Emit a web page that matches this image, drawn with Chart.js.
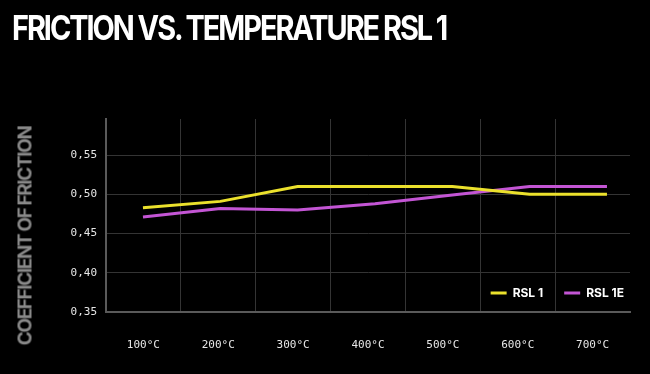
<!DOCTYPE html>
<html>
<head>
<meta charset="utf-8">
<script src="https://cdn.jsdelivr.net/npm/chart.js@4.4.1/dist/chart.umd.min.js"></script>
<style>
  html, body { margin: 0; padding: 0; background: #000; }
  #wrap { position: relative; width: 650px; height: 374px; overflow: hidden; }
  #chart { position: absolute; left: 0; top: 0; }
  h1 {
    position: absolute; left: 12px; top: 8px; margin: 0;
    font-family: Inter, sans-serif; font-weight: 700; font-size: 34px;
    letter-spacing: -2.4px; color: #fff; line-height: 40px; white-space: nowrap;
    transform: scaleX(0.85); transform-origin: left center;
  }
  #ytitle {
    position: absolute; left: 25px; top: 236px;
    transform: translate(-50%, -50%) rotate(-90deg);
    font-family: Inter, sans-serif; font-weight: 700; font-size: 19px;
    letter-spacing: -1.4px; color: #8a8a8a; white-space: nowrap;
  }
</style>
</head>
<body>
<div id="wrap">
  <canvas id="chart" width="650" height="374"></canvas>
  <h1>FRICTION VS. TEMPERATURE RSL 1</h1>
  <div id="ytitle">COEFFICIENT OF FRICTION</div>
</div>
<script>
const temps = ['100°C', '200°C', '300°C', '400°C', '500°C', '600°C', '700°C'];
const rsl1 = [0.483, 0.491, 0.510, 0.510, 0.510, 0.500, 0.500];
const rsl1e = [0.471, 0.482, 0.480, 0.488, 0.499, 0.510, 0.510];
const yTicks = [0.35, 0.40, 0.45, 0.50, 0.55];

const gridColor = '#343434';
const axisColor = '#5a5a5a';

// move the legend into the lower right corner of the plot
const legendInside = {
    id: 'legendInside',
    afterLayout(chart) {
        const lg = chart.legend;
        const area = chart.chartArea;
        const pad = lg.options.labels.padding;
        const h = lg.height, w = lg.width;
        lg.right = area.right + 15;
        lg.left = lg.right - w;
        lg.top = area.bottom - 19 - pad - 6;
        lg.bottom = lg.top + h;
    }
};

const points = arr => arr.map((v, i) => ({ x: i, y: v }));

new Chart(document.getElementById('chart'), {
    type: 'line',
    data: {
        labels: temps,
        datasets: [{
            label: 'RSL 1',
            data: points(rsl1),
            xAxisID: 'xd',
            borderColor: '#ebe12c',
            backgroundColor: '#ebe12c',
            borderWidth: 3,
            pointRadius: 0,
            tension: 0
        }, {
            label: 'RSL 1E',
            data: points(rsl1e),
            xAxisID: 'xd',
            borderColor: '#c355d4',
            backgroundColor: '#c355d4',
            borderWidth: 3,
            pointRadius: 0,
            tension: 0
        }]
    },
    options: {
        responsive: false,
        animation: false,
        layout: { padding: { top: 76, right: 20, left: 0, bottom: 0 } },
        plugins: {
            legend: {
                position: 'top',
                align: 'end',
                labels: {
                    color: '#fff',
                    font: { family: 'Inter', weight: 'bold', size: 12 },
                    usePointStyle: true,
                    pointStyle: 'line',
                    pointStyleWidth: 16,
                    padding: 21
                }
            },
            tooltip: { enabled: false }
        },
        scales: {
            x: {
                type: 'category',
                offset: true,
                grid: {
                    offset: true,
                    drawTicks: false,
                    color: ctx => ctx.type === 'tick' ? gridColor : 'transparent'
                },
                border: { color: axisColor, width: 2 },
                ticks: {
                    color: '#e6e6e6',
                    padding: 27,
                    font: { family: 'DejaVu Sans Mono', size: 11 },
                    maxRotation: 0
                },
                afterFit(scale) { scale.height = 62; }
            },
            xd: {
                type: 'linear',
                display: false,
                min: -0.478,
                max: 6.298
            },
            y: {
                min: 0.35,
                max: 0.596,
                grid: { color: gridColor, drawTicks: false },
                border: { color: axisColor, width: 2 },
                ticks: {
                    color: '#e6e6e6',
                    padding: 9,
                    font: { family: 'DejaVu Sans Mono', size: 11 },
                    callback: v => v.toFixed(2).replace('.', ',')
                },
                afterBuildTicks(scale) { scale.ticks = yTicks.map(v => ({ value: v })); },
                afterFit(scale) { scale.width = 106; }
            }
        }
    },
    plugins: [legendInside]
});
</script>
</body>
</html>
